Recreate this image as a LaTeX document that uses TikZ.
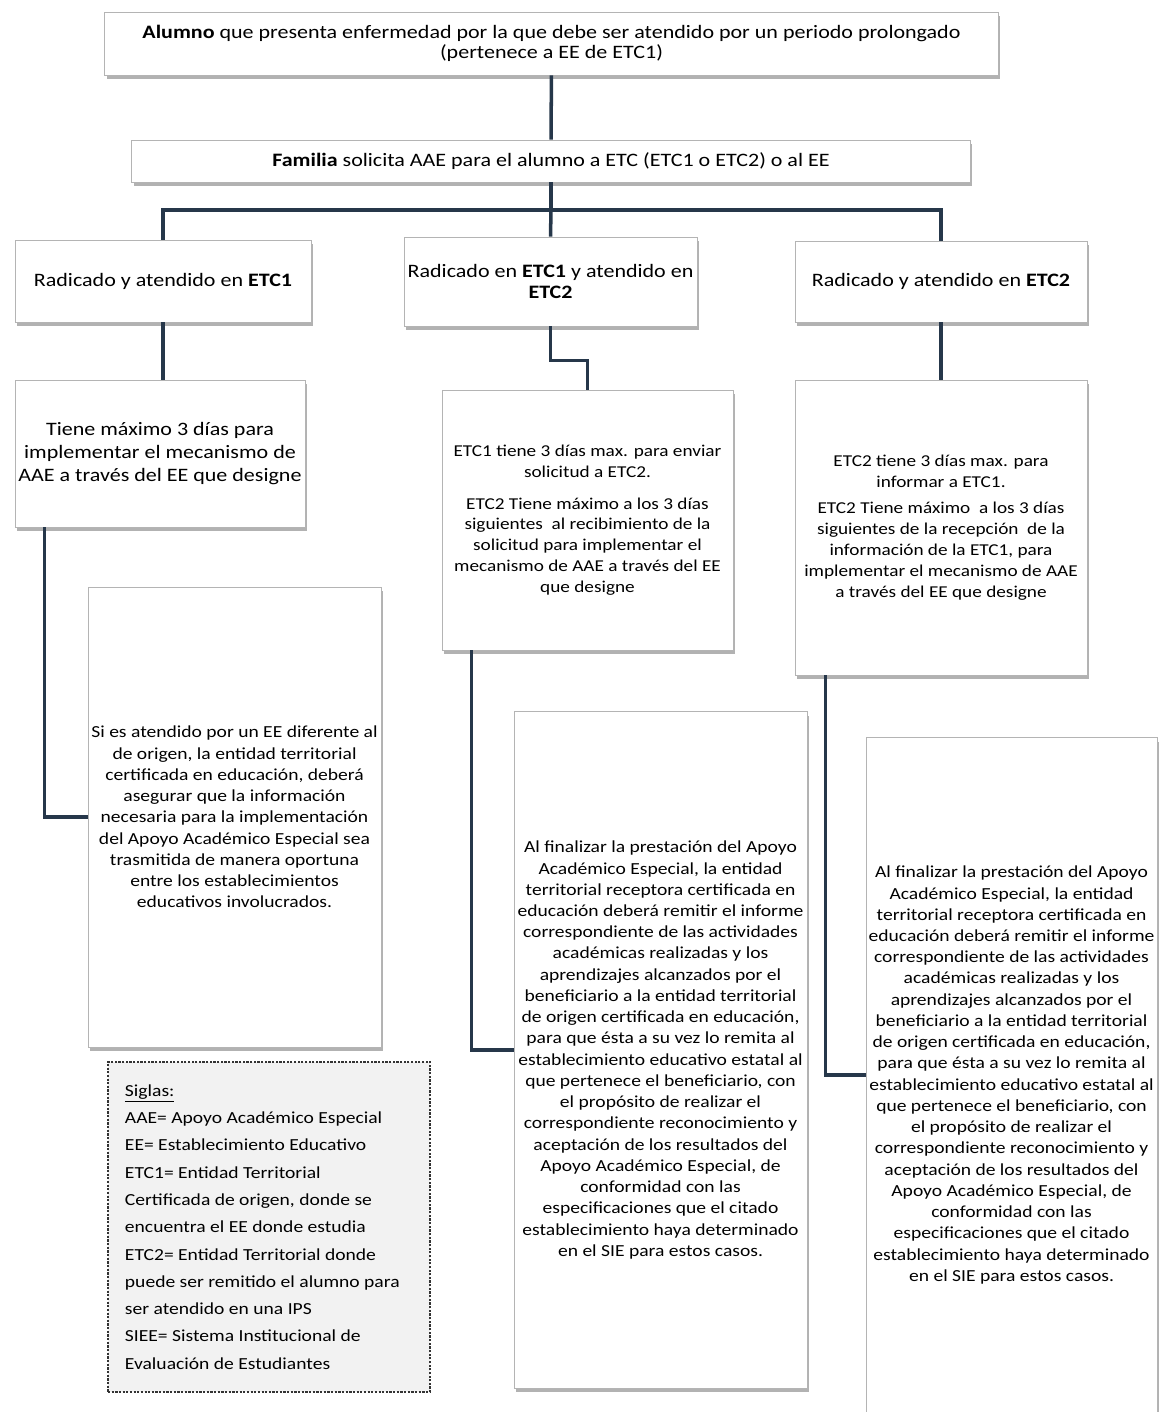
\documentclass[tikz,border=0pt]{standalone}
\usepackage{fontspec}
\setmainfont{Carlito}[FakeStretch=1.16]
\usetikzlibrary{positioning,shadows}

\definecolor{linkblue}{HTML}{26374A}
\definecolor{boxgray}{HTML}{B4B4B4}
\definecolor{notefill}{HTML}{F2F2F2}

\newcommand{\textofinal}{Al finalizar la prestación del Apoyo\\ Académico Especial, la entidad\\
  territorial receptora certificada en\\ educación deberá remitir el informe\\
  correspondiente de las actividades\\ académicas realizadas y los\\
  aprendizajes alcanzados por el\\ beneficiario a la entidad territorial\\
  de origen certificada en educación,\\ para que ésta a su vez lo remita al\\
  establecimiento educativo estatal al\\ que pertenece el beneficiario, con\\
  el propósito de realizar el\\ correspondiente reconocimiento y\\
  aceptación de los resultados del\\ Apoyo Académico Especial, de\\
  conformidad con las\\ especificaciones que el citado\\
  establecimiento haya determinado\\ en el SIE para estos casos.}

\begin{document}
\begin{tikzpicture}[
  x=0.025cm, y=-0.025cm,
  box/.style={draw=boxgray, fill=white, line width=0.6pt, align=center, inner sep=0.5mm,
              drop shadow={shadow xshift=0.5mm, shadow yshift=-0.9mm, fill=black!55, opacity=0.55}},
  big/.style={box, font=\fontsize{13.5}{14.5}\selectfont},
  mid/.style={box, font=\fontsize{11.8}{14.8}\selectfont},
  nota/.style={box, font=\fontsize{12}{15.1}\selectfont},
  siglas/.style={draw=black!80, dashed, dash pattern=on 1.6pt off 1pt, line width=0.8pt,
                 fill=notefill, align=flush left, inner xsep=0.425cm, text width=7.2cm,
                 minimum height=8.25cm, font=\fontsize{12}{19.4}\selectfont},
  link/.style={draw=linkblue, line width=2.5pt},
]
  \useasboundingbox (0,0) rectangle (1160,1412);

  \node[big, minimum width=22.325cm, minimum height=1.575cm] (alumno) at (551.5,43.5)
    {\textbf{Alumno} que presenta enfermedad por la que debe ser atendido por un periodo prolongado\\ (pertenece a EE de ETC1)};
  \node[big, minimum width=20.95cm, minimum height=1.05cm] (familia) at (551,161)
    {\textbf{Familia} solicita AAE para el alumno a ETC (ETC1 o ETC2) o al EE};

  \node[big, minimum width=7.4cm, minimum height=2.05cm] (rad1) at (163,281)
    {Radicado y atendido en \textbf{ETC1}};
  \node[big, minimum width=7.325cm, minimum height=2.225cm] (rad2) at (550.5,281.5)
    {Radicado en \textbf{ETC1} y atendido en\\ \textbf{ETC2}};
  \node[big, minimum width=7.3cm, minimum height=2.025cm] (rad3) at (941,281.5)
    {Radicado y atendido en \textbf{ETC2}};

  \node[big, font=\fontsize{13.5}{16.5}\selectfont, minimum width=7.25cm, minimum height=3.675cm] (plazo1) at (160,453.5)
    {Tiene máximo 3 días para\\ implementar el mecanismo de\\ AAE a través del EE que designe};
  \node[mid, minimum width=7.275cm, minimum height=6.5cm] (plazo2) at (587.5,520)
    {ETC1 tiene 3 días max. para enviar\\ solicitud a ETC2.\\[8pt]
     ETC2 Tiene máximo a los 3 días\\ siguientes\ \ al recibimiento de la\\ solicitud para implementar el\\
     mecanismo de AAE a través del EE\\ que designe};
  \node[mid, minimum width=7.3cm, minimum height=7.375cm] (plazo3) at (941,527.5)
    {ETC2 tiene 3 días max. para\\ informar a ETC1.\\[4pt]
     ETC2 Tiene máximo\ \ a los 3 días\\ siguientes de la recepción\ \ de la\\ información de la ETC1, para\\
     implementar el mecanismo de AAE\\ a través del EE que designe};

  \node[nota, minimum width=7.325cm, minimum height=11.5cm] (nota1) at (234.5,817)
    {Si es atendido por un EE diferente al\\ de origen, la entidad territorial\\ certificada en educación, deberá\\
     asegurar que la información\\ necesaria para la implementación\\ del Apoyo Académico Especial sea\\
     trasmitida de manera oportuna\\ entre los establecimientos\\ educativos involucrados.};
  \node[nota, minimum width=7.325cm, minimum height=16.9cm] (nota2) at (660.5,1050) {\textofinal};
  \node[nota, minimum width=7.275cm, minimum height=16.85cm] (nota3) at (1011.5,1075) {\textofinal};

  \node[siglas] (sig) at (269,1227)
    {\underline{Siglas:}\\ AAE= Apoyo Académico Especial\\ EE= Establecimiento Educativo\\
     ETC1= Entidad Territorial\\ Certificada de origen, donde se\\ encuentra el EE donde estudia\\
     ETC2= Entidad Territorial donde\\ puede ser remitido el alumno para\\ ser atendido en una IPS\\
     SIEE= Sistema Institucional de\\ Evaluación de Estudiantes};

  \coordinate (bus) at (551,210);
  \draw[link] (alumno) -- (familia);
  \draw[link] (familia.south) -- (bus);
  \draw[link] (rad1.north) |- (bus) -| (rad3.north);
  \draw[link] (bus) -- (rad2.north);

  \draw[link] (rad1.south) -- (rad1.south |- plazo1.north);
  \draw[link] (rad2.south) -- ++(0,34) -| (plazo2.north);
  \draw[link] (rad3.south) -- (plazo3.north);

  \draw[link] ([xshift=0.75cm]plazo1.south west) |- (nota1.west);
  \draw[link] ([xshift=0.75cm]plazo2.south west) |- (nota2.west);
  \draw[link] ([xshift=0.775cm]plazo3.south west) |- (nota3.west);
\end{tikzpicture}
\end{document}
